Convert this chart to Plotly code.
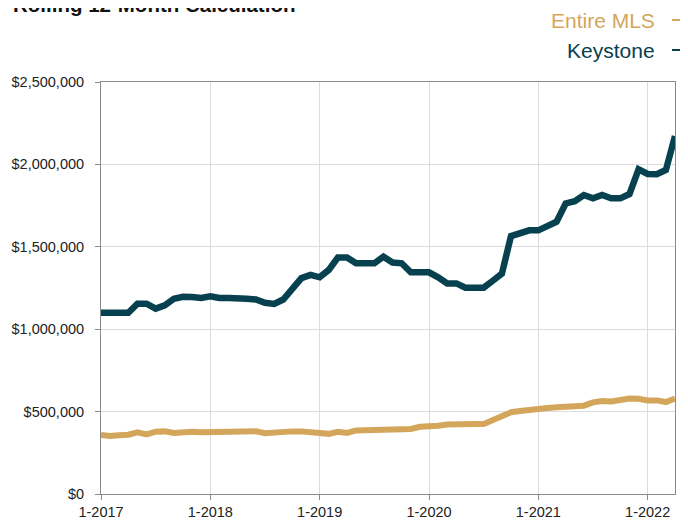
import plotly.graph_objects as go

# Month labels Jan 2017 .. Apr 2022
months = [f"{m}-{y}" for y in range(2017, 2023) for m in range(1, 13)][:64]

entire_mls = [
    358000, 352000, 356000, 360000, 374000, 362000, 378000, 380000, 370000, 375000, 377000, 375000,
    375000, 375000, 377000, 381000, 375000, 381000, 369000, 375000, 378000, 380000, 380000, 373000,
    367000, 365000, 377000, 371000, 386000, 386000, 392000, 392000, 392000, 392000, 395000, 408000,
    408000, 414000, 421000, 425000, 420000, 425000, 425000, 452000, 479000, 496000, 504000, 512000,
    516000, 522000, 526000, 532000, 538000, 536000, 556000, 564000, 562000, 570000, 580000, 578000,
    568000, 568000, 558000, 580000,
]

keystone = [
    1100000, 1100000, 1100000, 1100000, 1155000, 1155000, 1125000, 1145000, 1185000, 1197000, 1195000, 1190000,
    1200000, 1190000, 1190000, 1190000, 1185000, 1180000, 1160000, 1153000, 1180000, 1245000, 1310000, 1330000,
    1315000, 1360000, 1435000, 1435000, 1400000, 1400000, 1400000, 1440000, 1405000, 1400000, 1345000, 1345000,
    1345000, 1315000, 1278000, 1278000, 1252000, 1252000, 1252000, 1294000, 1337000, 1565000, 1585000, 1600000,
    1600000, 1626000, 1652000, 1763000, 1777000, 1814000, 1794000, 1814000, 1794000, 1794000, 1820000, 1970000,
    1942000, 1940000, 1966000, 2172000,
]

tick_labels = ["1-2017", "1-2018", "1-2019", "1-2020", "1-2021", "1-2022"]

GOLD = "#d4a65b"
TEAL = "#07404f"
FONT = "Liberation Sans, Arial, sans-serif"

fig = go.Figure()
fig.add_trace(go.Scatter(x=months, y=entire_mls, mode="lines", name="Entire MLS",
                         line=dict(color=GOLD, width=6), showlegend=False))
fig.add_trace(go.Scatter(x=months, y=keystone, mode="lines", name="Keystone",
                         line=dict(color=TEAL, width=6.5), showlegend=False))

# page body adds an 8px offset; figure sized to fit the window
fig.update_layout(
    width=680, height=515,
    margin=dict(l=93, r=13, t=74, b=29),
    paper_bgcolor="white", plot_bgcolor="white",
    font=dict(family=FONT, size=14.5, color="#222222"),
)

fig.update_xaxes(
    type="category", range=[0, 63],
    tickmode="array", tickvals=tick_labels, ticktext=tick_labels,
    showgrid=True, gridcolor="#dcdcdc", gridwidth=1,
    showline=True, linecolor="#8a8a8a", linewidth=1, mirror=True,
    ticks="outside", ticklen=5, tickcolor="#8a8a8a",
    zeroline=False, automargin=False,
)
fig.update_yaxes(
    range=[0, 2500000], dtick=500000, tickprefix="$", tickformat=",",
    showgrid=True, gridcolor="#dcdcdc", gridwidth=1,
    showline=True, linecolor="#8a8a8a", linewidth=1, mirror=True,
    ticks="outside", ticklen=5, tickcolor="#8a8a8a",
    zeroline=False, ticklabelstandoff=8, automargin=False,
)

def px_x(p):
    return (p - 101) / 574.0

def px_y(p):
    return (494 - p) / 412.0

ann = [
    dict(text="<b>Rolling 12-Month Calculation</b>", x=px_x(11), y=px_y(18),
         xanchor="left", yanchor="bottom", font=dict(size=20.5, color="#111111")),
    dict(text="Entire MLS", x=px_x(657), y=px_y(20), xanchor="right", yanchor="middle",
         font=dict(size=21, color=GOLD)),
    dict(text="Keystone", x=px_x(657), y=px_y(50), xanchor="right", yanchor="middle",
         font=dict(size=21, color=TEAL)),
]
for a in ann:
    a.update(xref="paper", yref="paper", showarrow=False)
fig.update_layout(annotations=ann)

# legend key dashes to the right of the labels
for color, ypx in [(GOLD, 20), (TEAL, 50)]:
    fig.add_shape(type="line", xref="paper", yref="paper",
                  x0=px_x(672), x1=px_x(700), y0=px_y(ypx), y1=px_y(ypx),
                  line=dict(color=color, width=2))

fig.write_html("out.html")
